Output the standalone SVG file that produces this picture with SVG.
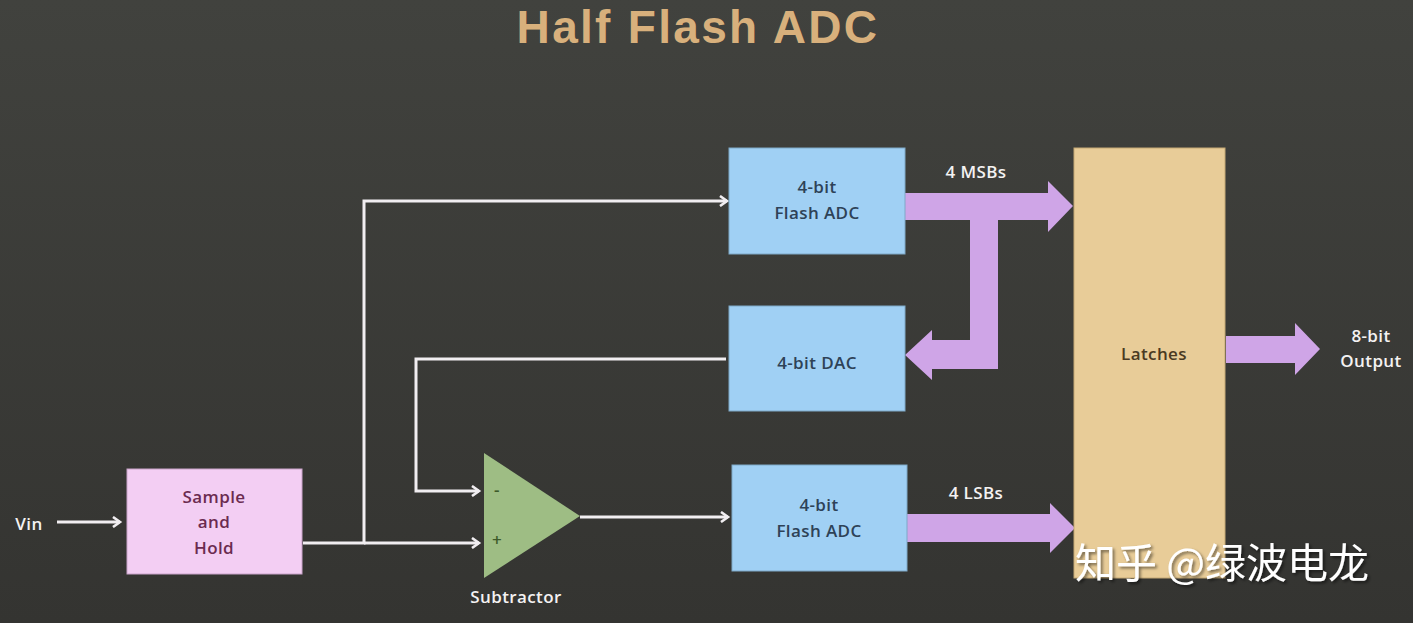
<svg xmlns="http://www.w3.org/2000/svg" width="1413" height="623" viewBox="0 0 1413 623">
<defs>
<linearGradient id="bg" x1="0" y1="0" x2="0" y2="1">
<stop offset="0" stop-color="#41423e"/>
<stop offset="1" stop-color="#343431"/>
</linearGradient>
<marker id="arr" markerWidth="12" markerHeight="12" refX="9" refY="6" orient="auto" markerUnits="userSpaceOnUse">
<polyline points="2,1 9,6 2,11" fill="none" stroke="#f1eef1" stroke-width="2.6" stroke-linejoin="miter"/>
</marker>
<filter id="sh" x="-5%" y="-5%" width="115%" height="115%">
<feDropShadow dx="2" dy="2" stdDeviation="1.5" flood-color="#000" flood-opacity="0.5"/>
</filter>
</defs>
<style>
.blk{font-family:"Open Sans","Liberation Sans",sans-serif;font-weight:600;font-size:17px;letter-spacing:0.4px;text-anchor:middle}
.blue{fill:#a0d0f4;stroke:#7fa9c8;stroke-width:1}
.bt{fill:#2e4257}
.lbl{fill:#f4f2f2}
.wire{fill:none;stroke:#f1eef1;stroke-width:3}
.bus{fill:#cfa5e7}
</style>
<rect x="0" y="0" width="1413" height="623" fill="url(#bg)"/>
<text x="698" y="43" font-family="Liberation Sans, Arial, sans-serif" font-weight="700" font-size="46" letter-spacing="2.3" fill="#d8b07c" text-anchor="middle">Half Flash ADC</text>

<g id="connectors">
<text class="blk lbl" x="29" y="530">Vin</text>
<line class="wire" x1="57" y1="522" x2="120" y2="522" marker-end="url(#arr)"/>
<polyline class="wire" points="303,543 364,543 364,201 727,201" marker-end="url(#arr)"/>
<line class="wire" x1="364" y1="543" x2="479" y2="543" marker-end="url(#arr)"/>
<polyline class="wire" points="726,359 416,359 416,491 479,491" marker-end="url(#arr)"/>
<line class="wire" x1="580" y1="517" x2="728" y2="517" marker-end="url(#arr)"/>
<path class="bus" d="M905,193 L1048,193 L1048,181 L1073,206 L1048,232 L1048,220 L998,220 L998,369 L932,369 L932,380 L905,355 L932,330 L932,340 L970,340 L970,220 L905,220 Z"/>
<path class="bus" d="M907,514 L1050,514 L1050,503 L1075,528 L1050,553 L1050,542 L907,542 Z"/>
<path class="bus" d="M1226,336 L1295,336 L1295,323 L1320,349 L1295,375 L1295,363 L1226,363 Z"/>
<text class="blk lbl" x="976" y="178">4 MSBs</text>
<text class="blk lbl" x="976" y="499">4 LSBs</text>
<text class="blk lbl" x="1371" y="342">8-bit</text>
<text class="blk lbl" x="1371" y="367">Output</text>
</g>

<g id="sample-hold">
<rect x="127" y="469" width="175" height="105" fill="#f3cef3" stroke="#c9a3c9" stroke-width="1"/>
<text class="blk" fill="#6b2b50" x="214" y="503">Sample</text>
<text class="blk" fill="#6b2b50" x="214" y="528">and</text>
<text class="blk" fill="#6b2b50" x="214" y="554">Hold</text>
</g>

<g id="subtractor">
<polygon points="484,453 580,516 484,578" fill="#9ebd84"/>
<text class="blk" fill="#3d5a2a" x="497" y="496" font-size="14">-</text>
<text class="blk" fill="#3d5a2a" x="497" y="546" font-size="14">+</text>
<text class="blk lbl" x="516" y="603">Subtractor</text>
</g>

<g id="flash-msb">
<rect class="blue" x="729" y="148" width="176" height="106"/>
<text class="blk bt" x="817" y="193">4-bit</text>
<text class="blk bt" x="817" y="219">Flash ADC</text>
</g>

<g id="dac">
<rect class="blue" x="729" y="306" width="176" height="105"/>
<text class="blk bt" x="817" y="369">4-bit DAC</text>
</g>

<g id="flash-lsb">
<rect class="blue" x="732" y="465" width="175" height="106"/>
<text class="blk bt" x="819" y="511">4-bit</text>
<text class="blk bt" x="819" y="537">Flash ADC</text>
</g>

<g id="latches">
<rect x="1074" y="148" width="151" height="430" fill="#e8cc98" stroke="#c4a874" stroke-width="1"/>
<text class="blk" fill="#4a3a22" x="1154" y="360">Latches</text>
</g>

<text x="1222" y="578" font-family="Noto Sans CJK SC, sans-serif" font-size="41" fill="#ffffff" text-anchor="middle" filter="url(#sh)">知乎 @绿波电龙</text>
</svg>
